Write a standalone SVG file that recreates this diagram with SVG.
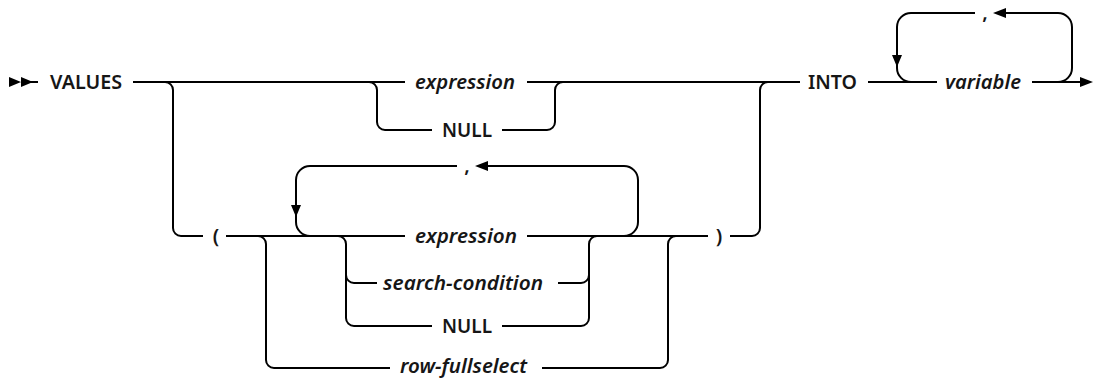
<svg xmlns="http://www.w3.org/2000/svg" width="1094" height="379" viewBox="0 0 1094 379">
<style>
.ln{fill:none;stroke:#000;stroke-width:2;}
.ar{fill:#000;stroke:none;}
.t{font-family:"Noto Sans","Open Sans","Liberation Sans",sans-serif;font-size:20px;font-weight:600;fill:#161616;}
.i{font-style:italic;}
</style>
<rect width="1094" height="379" fill="#fff"/>
<g id="connectors">
<path class="ln" d="M21,82 H38"/>
<path class="ar" d="M9,77 L21,82 L9,87 Z M21,77 L33,82 L21,87 Z"/>
<path class="ln" d="M133,82 H405 M527,82 H800 M868,82 H937 M1032,82 H1080"/>
<path class="ar" d="M1080,77 L1093,82 L1080,87 Z"/>
<path class="ln" d="M369,82 A8,8 0 0 1 377,90 V122 A8,8 0 0 0 385,130 H432 M502,130 H547 A8,8 0 0 0 555,122 V90 A8,8 0 0 1 563,82"/>
<path class="ln" d="M165,82 A8,8 0 0 1 173,90 V228 A8,8 0 0 0 181,236 H203 M226,236 H405 M527,236 H708 M730,236 H752 A8,8 0 0 0 760,228 V90 A8,8 0 0 1 768,82"/>
<path class="ln" d="M310,236 A14,14 0 0 1 296,222 V180 A14,14 0 0 1 310,166 H457 M488,166 H624 A14,14 0 0 1 638,180 V222 A14,14 0 0 1 624,236"/>
<path class="ar" d="M291,205 L301,205 L296,217 Z M488,161 L488,171 L475,166 Z"/>
<path class="ln" d="M338,236 A8,8 0 0 1 346,244 V318 A8,8 0 0 0 354,326 H432 M502,326 H581 A8,8 0 0 0 589,318 V244 A8,8 0 0 1 597,236"/>
<path class="ln" d="M346,275 A8,8 0 0 0 354,283 H377 M558,283 H581 A8,8 0 0 0 589,275"/>
<path class="ln" d="M258,236 A8,8 0 0 1 266,244 V360 A8,8 0 0 0 274,368 H390 M542,368 H660 A8,8 0 0 0 668,360 V244 A8,8 0 0 1 676,236"/>
<path class="ln" d="M911,82 A14,14 0 0 1 897,68 V27 A14,14 0 0 1 911,13 H975 M1006,13 H1058 A14,14 0 0 1 1072,27 V68 A14,14 0 0 1 1058,82"/>
<path class="ar" d="M892,55 L902,55 L897,67 Z M1006,8 L1006,18 L993,13 Z"/>
</g>
<g id="n-values"><text class="t" x="50" y="89" textLength="72" lengthAdjust="spacingAndGlyphs">VALUES</text></g>
<g id="n-expr1"><text class="t i" x="415" y="89" textLength="100" lengthAdjust="spacingAndGlyphs">expression</text></g>
<g id="n-null1"><text class="t" x="442" y="137" textLength="50" lengthAdjust="spacingAndGlyphs">NULL</text></g>
<g id="n-lparen"><text class="t" x="216" y="243" text-anchor="middle">(</text></g>
<g id="n-comma1"><text class="t" x="467" y="172" text-anchor="middle">,</text></g>
<g id="n-expr2"><text class="t i" x="415" y="243" textLength="102" lengthAdjust="spacingAndGlyphs">expression</text></g>
<g id="n-search"><text class="t i" x="383" y="290" textLength="160" lengthAdjust="spacingAndGlyphs">search-condition</text></g>
<g id="n-null2"><text class="t" x="442" y="333" textLength="50" lengthAdjust="spacingAndGlyphs">NULL</text></g>
<g id="n-rowfs"><text class="t i" x="400" y="373" textLength="127" lengthAdjust="spacingAndGlyphs">row-fullselect</text></g>
<g id="n-rparen"><text class="t" x="719" y="243" text-anchor="middle">)</text></g>
<g id="n-into"><text class="t" x="808" y="89" textLength="49" lengthAdjust="spacingAndGlyphs">INTO</text></g>
<g id="n-comma2"><text class="t" x="985" y="19" text-anchor="middle">,</text></g>
<g id="n-variable"><text class="t i" x="945" y="89" textLength="76" lengthAdjust="spacingAndGlyphs">variable</text></g>
</svg>
